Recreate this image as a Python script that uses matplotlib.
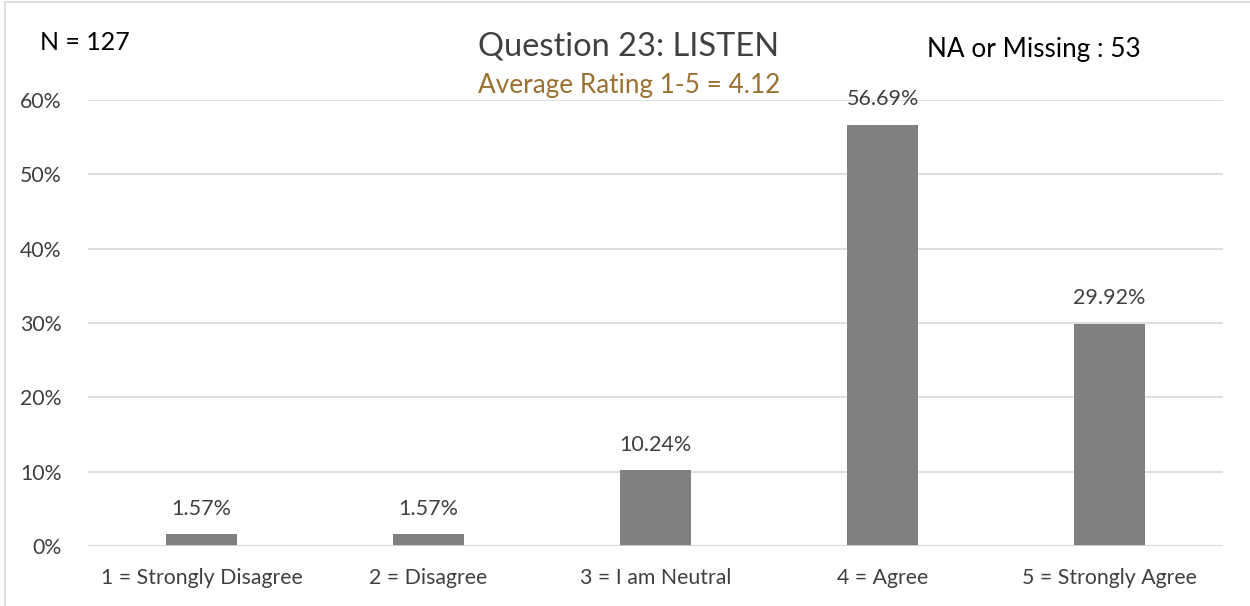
import matplotlib
matplotlib.use("Agg")
import matplotlib.pyplot as plt
from matplotlib.lines import Line2D

categories = ["1 = Strongly Disagree", "2 = Disagree", "3 = I am Neutral", "4 = Agree", "5 = Strongly Agree"]
values = [1.57, 1.57, 10.24, 56.69, 29.92]
yticks = [0, 10, 20, 30, 40, 50, 60]
ytick_labels = ["0%", "10%", "20%", "30%", "40%", "50%", "60%"]

plt.rcParams['font.family'] = ['Lato', 'DejaVu Sans']

W, H = 1250, 606
fig = plt.figure(figsize=(W/100, H/100), dpi=100)
ax = fig.add_axes([88/W, 1-546/H, (1223-88)/W, (546-100)/H])

x = list(range(len(categories)))
ax.bar(x, values, width=0.31, color="#808080", zorder=3)
ax.set_xlim(-0.5, 4.5)
ax.set_ylim(0, 60)
ax.set_yticks(yticks)
ax.set_yticklabels(ytick_labels)
ax.set_xticks(x)
ax.set_xticklabels(categories)
ax.tick_params(axis='both', length=0, labelsize=15.3, colors="#404040")
ax.tick_params(axis='y', pad=19)
ax.tick_params(axis='x', pad=16)
ax.yaxis.grid(True, color="#d9d9d9", linewidth=1.2, zorder=0)
for s in ax.spines.values():
    s.set_visible(False)
ax.axhline(0, color="#d9d9d9", linewidth=1.2, zorder=4)

for xi, v in zip(x, values):
    ax.annotate(f"{v:.2f}%", (xi, v), xytext=(0, 11), textcoords="offset points",
                ha="center", va="bottom", fontsize=15.5, color="#404040")

fig.text(629/W, 1-47/H, "Question 23: LISTEN", ha="center", va="center", fontsize=23.5, color="#404040")
fig.text(629/W, 1-86/H, "Average Rating 1-5 = 4.12", ha="center", va="center", fontsize=18.8, color="#9B7030")
fig.text(40/W, 1-43/H, "N = 127", ha="left", va="center", fontsize=18, color="#000000")
fig.text(1141/W, 1-50/H, "NA or Missing : 53", ha="right", va="center", fontsize=18.8, color="#000000")

fig.add_artist(Line2D([5/W, 5/W], [0, 1-2/H], transform=fig.transFigure, color="#d9d9d9", lw=1.2))
fig.add_artist(Line2D([5/W, 1], [1-2/H, 1-2/H], transform=fig.transFigure, color="#d9d9d9", lw=1.2))

fig.savefig("out.png", dpi=100, facecolor="white")
